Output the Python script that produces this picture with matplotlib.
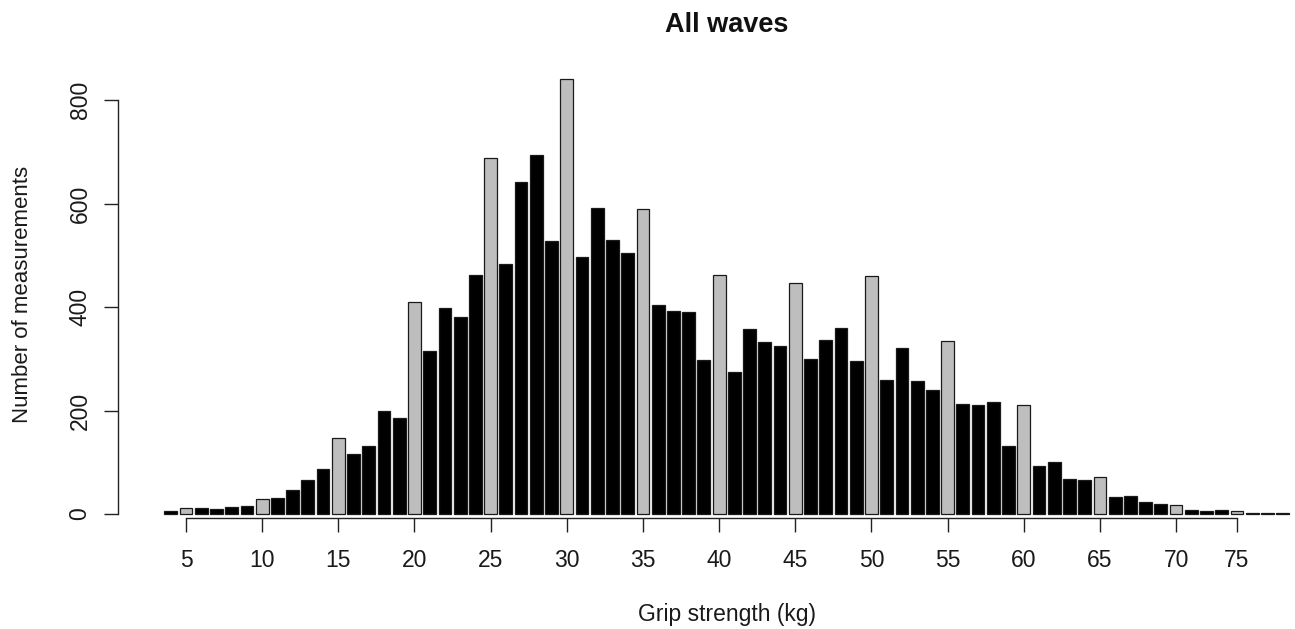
import matplotlib
matplotlib.use("Agg")
import matplotlib.pyplot as plt
import numpy as np

plt.rcParams['font.family'] = ['Liberation Sans', 'DejaVu Sans']

# Data: grip strength (kg) categories and number of measurements
grip_kg = list(range(4, 74)) + [75, 76, 77, 78]
counts = [5, 11, 12, 9, 13, 15, 29, 30, 47, 66,
          87, 146, 115, 131, 199, 186, 410, 315, 399, 381,
          461, 687, 483, 641, 693, 528, 841, 496, 592, 529,
          504, 590, 404, 392, 390, 298, 461, 274, 357, 332,
          325, 447, 299, 336, 359, 296, 460, 259, 320, 257,
          240, 334, 213, 211, 216, 131, 211, 93, 100, 67,
          65, 71, 32, 35, 23, 19, 17, 7, 5, 7,
          6, 2, 2, 2]
tick_values = [5, 10, 15, 20, 25, 30, 35, 40, 45, 50, 55, 60, 65, 70, 75]
y_ticks = [0, 200, 400, 600, 800]

W, H = 1295, 629
fig = plt.figure(figsize=(W / 100, H / 100), dpi=100)
ax = fig.add_axes([118 / W, (H - 518) / H, (W - 118) / W, (518 - 75) / H])

pos = np.arange(len(grip_kg))
colors = ['#bebebe' if g % 5 == 0 else 'black' for g in grip_kg]
ax.bar(pos, counts, width=0.84, color=colors, edgecolor='#1a1a1a', linewidth=0.9)

# scales: index 1 (5 kg) at px 186, index 70 (75 kg) at px 1237
px_per_idx = (1237 - 186) / 69.0
idx0_px = 186 - px_per_idx
ax.set_xlim((118 - idx0_px) / px_per_idx, (1295 - idx0_px) / px_per_idx)
px_per_unit = (514 - 100) / 800.0
ax.set_ylim((514 - 518) / px_per_unit, (514 - 75) / px_per_unit)

for s in ['top', 'right']:
    ax.spines[s].set_visible(False)
tick_pos = [grip_kg.index(t) for t in tick_values]
ax.spines['left'].set_bounds(0, 800)
ax.spines['bottom'].set_bounds(tick_pos[0], tick_pos[-1])
for s in ['left', 'bottom']:
    ax.spines[s].set_linewidth(1.0)
    ax.spines[s].set_color('#222222')

ax.set_xticks(tick_pos)
ax.set_xticklabels([str(t) for t in tick_values])
ax.set_yticks(y_ticks)
ax.set_yticklabels([str(t) for t in y_ticks], rotation=90, va='center', ha='right')
ax.tick_params(axis='both', length=10, width=1.0, color='#222222', labelsize=16.5,
               labelcolor='#1a1a1a')
ax.tick_params(axis='x', pad=12)
ax.tick_params(axis='y', pad=9)

fig.text(727 / W, 1 - 25 / H, 'All waves', ha='center', va='center',
         fontsize=19.5, fontweight='bold', color='#111111')
fig.text(727 / W, 1 - 614 / H, 'Grip strength (kg)', ha='center', va='center',
         fontsize=16.5, color='#1a1a1a')
fig.text(23 / W, 1 - 294 / H, 'Number of measurements', ha='center', va='center',
         rotation=90, fontsize=16, color='#1a1a1a')

fig.savefig('out.png', dpi=100)
